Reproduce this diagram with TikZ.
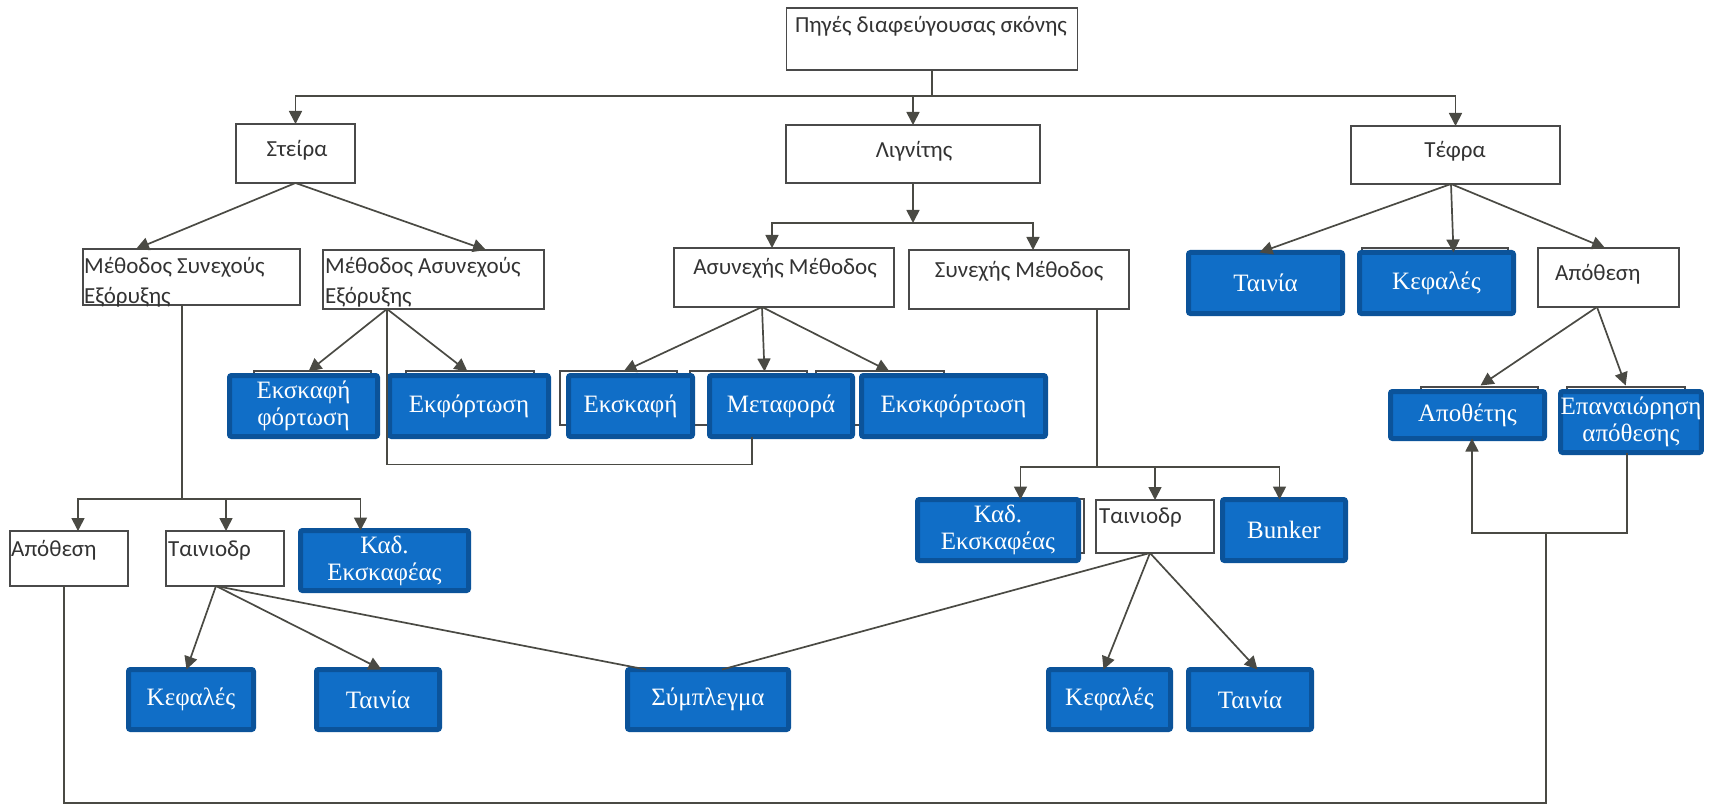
\documentclass[tikz,border=0pt]{standalone}
\usepackage{fontspec}
\setmainfont{Liberation Serif}
\newfontfamily\carl{Carlito}
\usetikzlibrary{arrows.meta}
\definecolor{lc}{HTML}{4A4A44}
\definecolor{bc}{HTML}{4A4A4A}
\definecolor{tc}{HTML}{333333}
\definecolor{bfill}{HTML}{106EC7}
\definecolor{bord}{HTML}{0B539A}
\newcommand\wfont{\carl\fontsize{23}{30}\selectfont}
\newcommand\bfont{\fontsize{25}{27}\selectfont}
\tikzset{
  ln/.style={draw=lc, line width=1.7pt},
  arr/.style={ln, -{Triangle[length=13pt,width=13pt]}},
  wbox/.style={draw=bc, line width=1.5pt, fill=white, inner sep=0pt, outer sep=0pt},
  ubox/.style={draw=bc, line width=1.5pt, fill=white},
  wtext/.style={text=tc, font=\wfont, inner sep=0pt},
  bbox/.style={draw=bord, fill=bfill, line width=5pt, rounded corners=2pt, text=white,
    font=\bfont, align=center, inner sep=0pt, outer sep=0pt},
}
\begin{document}
\begin{tikzpicture}[x=1pt,y=-1pt]
\useasboundingbox[fill=white] (0,0) rectangle (1709,805);

% underlying (covered) boxes
\draw[ubox] (254,371) rectangle (371,425);
\draw[ubox] (406,371) rectangle (534,425);
\draw[ubox] (560,371) rectangle (677,425);
\draw[ubox] (690,371) rectangle (807,425);
\draw[ubox] (816,371) rectangle (944,425);
\draw[ubox] (1421,387) rectangle (1538,440);
\draw[ubox] (1567,387) rectangle (1685,440);
\draw[ubox] (960,499) rectangle (1084,553);
\draw[ubox] (1362,248) rectangle (1508,305);

% white boxes
\node[wbox, minimum width=291pt, minimum height=62pt] (top) at (932,39) {};
\node[wbox, minimum width=119pt, minimum height=59pt] (steira) at (295.5,153.5) {};
\node[wbox, minimum width=254pt, minimum height=58pt] (lignitis) at (913,154) {};
\node[wbox, minimum width=209pt, minimum height=58pt] (tefra) at (1455.5,155) {};
\node[wbox, minimum width=217pt, minimum height=56pt] (msyn) at (191.5,277) {};
\node[wbox, minimum width=221pt, minimum height=59pt] (masyn) at (433.5,279.5) {};
\node[wbox, minimum width=220pt, minimum height=59pt] (asynm) at (784,277.5) {};
\node[wbox, minimum width=220pt, minimum height=59pt] (synm) at (1019,279.5) {};
\node[wbox, minimum width=141pt, minimum height=59pt] (apothr) at (1608.5,277.5) {};
\node[wbox, minimum width=118pt, minimum height=55pt] (apothl) at (69,558.5) {};
\node[wbox, minimum width=118pt, minimum height=55pt] (tainl) at (225,558.5) {};
\node[wbox, minimum width=118pt, minimum height=53pt] (tainr) at (1155,526.5) {};

% white box texts
\node[wtext, anchor=base] (top-t) at (931,33) {Πηγές διαφεύγουσας σκόνης};
\node[wtext, anchor=base] (steira-t) at (297,157) {Στείρα};
\node[wtext, anchor=base] (lignitis-t) at (914,158) {Λιγνίτης};
\node[wtext, anchor=base] (tefra-t) at (1455,158) {Τέφρα};
\node[wtext, anchor=base west] (msyn-t1) at (84,273) {Μέθοδος Συνεχούς};
\node[wtext, anchor=base west] (msyn-t2) at (84,303) {Εξόρυξης};
\node[wtext, anchor=base west] (masyn-t1) at (325,273) {Μέθοδος Ασυνεχούς};
\node[wtext, anchor=base west] (masyn-t2) at (325,303) {Εξόρυξης};
\node[wtext, anchor=base] (asynm-t) at (785,275) {Ασυνεχής Μέθοδος};
\node[wtext, anchor=base] (synm-t) at (1019,277) {Συνεχής Μέθοδος};
\node[wtext, anchor=base west] (apothr-t) at (1555,280) {Απόθεση};
\node[wtext, anchor=base west] (apothl-t) at (11,556) {Απόθεση};
\node[wtext, anchor=base west] (tainl-t) at (168,556) {Ταινιοδρ};
\node[wtext, anchor=base west] (tainr-t) at (1099,523) {Ταινιοδρ};

% blue boxes
\node[bbox, minimum width=154pt, minimum height=61pt] (tainiat) at (1265.5,283) {Ταινία};
\node[bbox, minimum width=154pt, minimum height=61pt] (kefalest) at (1436.5,283) {Κεφαλές};
\node[bbox, minimum width=148pt, minimum height=61pt] (ekfort1) at (303.5,406) {Εκσκαφή\\φόρτωση};
\node[bbox, minimum width=159pt, minimum height=61pt] (ekfort) at (469,406) {Εκφόρτωση};
\node[bbox, minimum width=124pt, minimum height=61pt] (ekskafi) at (630.5,406) {Εκσκαφή};
\node[bbox, minimum width=143pt, minimum height=61pt] (metafora) at (781,406) {Μεταφορά};
\node[bbox, minimum width=184pt, minimum height=61pt] (ekskfort) at (953.5,406) {Εκσκφόρτωση};
\node[bbox, minimum width=154pt, minimum height=47pt] (apothetis) at (1467.5,415) {Αποθέτης};
\node[bbox, minimum width=139pt, minimum height=61pt] (epanaior) at (1631,422) {Επαναιώρηση\\απόθεσης};
\node[bbox, minimum width=168pt, minimum height=60pt] (kadl) at (384.5,560.5) {Καδ.\\Εκσκαφέας};
\node[bbox, minimum width=161pt, minimum height=61pt] (kadr) at (998,530) {Καδ.\\Εκσκαφέας};
\node[bbox, minimum width=123pt, minimum height=61pt] (bunker) at (1284,530) {Bunker};
\node[bbox, minimum width=125pt, minimum height=60pt] (kefalesl) at (191,699.5) {Κεφαλές};
\node[bbox, minimum width=123pt, minimum height=60pt] (tainial) at (378,699.5) {Ταινία};
\node[bbox, minimum width=161pt, minimum height=60pt] (symplegma) at (708,699.5) {Σύμπλεγμα};
\node[bbox, minimum width=122pt, minimum height=60pt] (kefalesr) at (1109.5,699.5) {Κεφαλές};
\node[bbox, minimum width=123pt, minimum height=60pt] (tainiar) at (1250,699.5) {Ταινία};

% connectors
\coordinate (j0) at (932,96);
\coordinate (j1) at (913,223);
\coordinate (j3) at (1546,533);
\draw[ln] (top.south) -- (j0);
\draw[ln] (j0) -- (j0 -| tefra);
\draw[arr] (j0) -| (steira);
\draw[arr] (j0) -| (tefra);
\draw[arr] (j0 -| lignitis) -- (lignitis);

\draw[arr] (steira.south) -- ([xshift=53pt]msyn.north west);
\draw[arr] (steira.south) -- ([xshift=163pt]masyn.north west);

\draw[arr] (lignitis) -- (j1);
\draw[arr] (j1) -| ([xshift=98pt]asynm.north west);
\draw[arr] (j1) -| ([xshift=124pt]synm.north west);

\draw[arr] ([xshift=-4.5pt]tefra.south) -- ([xshift=71pt]tainiat.north west);
\draw[arr] ([xshift=-4.5pt]tefra.south) -- ([xshift=94pt]kefalest.north west);
\draw[arr] ([xshift=-4.5pt]tefra.south) -- ([xshift=67pt]apothr.north west);

\draw[arr] ([xshift=-46.5pt]masyn.south) -- ([xshift=79pt,yshift=4pt]ekfort1.north west);
\draw[arr] ([xshift=-46.5pt]masyn.south) -- ([xshift=78pt,yshift=4pt]ekfort.north west);
\draw[ln] ([xshift=-29pt]metafora.south) -- ++(0,28) -| ([xshift=-46.5pt]masyn.south);

\draw[arr] ([xshift=-22pt]asynm.south) -- ([xshift=55pt,yshift=4pt]ekskafi.north west);
\draw[arr] ([xshift=-22pt]asynm.south) -- ([xshift=55pt,yshift=4pt]metafora.north west);
\draw[arr] ([xshift=-22pt]asynm.south) -- ([xshift=28pt,yshift=4pt]ekskfort.north west);

\draw[ln] ([xshift=78pt]synm.south) -- ++(0,158) coordinate (j2);
\draw[arr] (j2) -| ([xshift=103pt]kadr.north west);
\draw[arr] (j2) -| ([xshift=57pt]bunker.north west);
\draw[arr] (j2 -| tainr) -- (tainr);

\draw[ln] ([xshift=-5pt]tainr.south) -- ([xshift=14pt]symplegma.north);
\draw[arr] ([xshift=-5pt]tainr.south) -- ([xshift=55pt]kefalesr.north west);
\draw[arr] ([xshift=-5pt]tainr.south) -- ([xshift=69pt]tainiar.north west);

\draw[ln] ([xshift=-9.5pt]msyn.south) -- ++(0,194) coordinate (j4);
\draw[ln] (j4) -- (j4 -| kadl.north west);
\draw[arr] (j4) -| ([xshift=68pt]apothl.north west);
\draw[arr] (j4) -| ([xshift=60pt]tainl.north west);
\draw[arr] (j4) -| ([xshift=60pt]kadl.north west);

\draw[arr] ([xshift=-9pt]tainl.south) -- ([xshift=58pt]kefalesl.north west);
\draw[arr] ([xshift=-9pt]tainl.south) -- ([xshift=65pt]tainial.north west);
\draw[ln] ([xshift=-9pt]tainl.south) -- ([xshift=-62pt]symplegma.north);

\draw[arr] ([xshift=-11.5pt]apothr.south) -- ([xshift=90pt,yshift=6pt]apothetis.north west);
\draw[arr] ([xshift=-11.5pt]apothr.south) -- ([xshift=65pt,yshift=6pt]epanaior.north west);

\draw[ln] ([xshift=-5pt]apothl.south) -- ++(0,217) -| (j3);
\draw[ln] ([xshift=-4pt]epanaior.south) |- (j3);
\draw[arr] (j3) -| ([xshift=4.5pt]apothetis.south);
\end{tikzpicture}
\end{document}
